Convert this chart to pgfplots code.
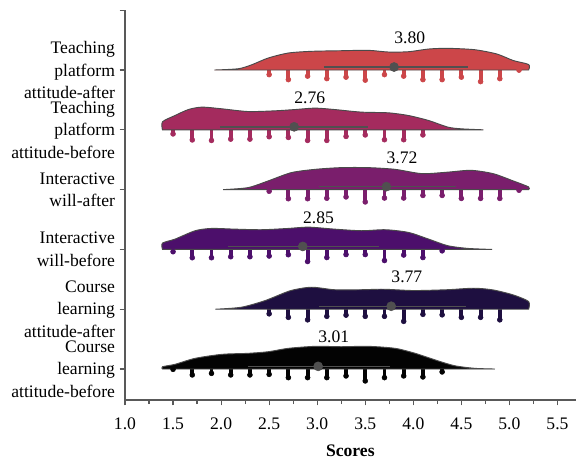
\documentclass[border=0pt]{standalone}
\usepackage{pgfplots}
\pgfplotsset{compat=1.18}
\usepackage{pgfplotstable}
\usepackage{fontspec}
\setmainfont{Liberation Serif}
\definecolor{cA}{HTML}{CC4649}
\definecolor{cB}{HTML}{A42B5E}
\definecolor{cC}{HTML}{7A1E6C}
\definecolor{cD}{HTML}{4C0F6B}
\definecolor{cE}{HTML}{1E0F40}
\definecolor{cF}{HTML}{030303}
\definecolor{axgray}{HTML}{595959}
\definecolor{meangray}{HTML}{505050}
\definecolor{edgegray}{HTML}{4A4A4A}

% density outlines: x (score), h (height in px)
\pgfplotstableread{
x h
1.93 0
2.18 1.3
2.32 5.3
2.49 12
2.70 17
2.94 18.7
3.25 19.3
3.53 19.7
3.74 18
3.95 18.3
4.16 21
4.36 21.7
4.64 20.3
4.87 16
5.04 9.5
5.20 5.5
5.20 0
}\denA
\pgfplotstableread{
x h
1.39 0
1.39 8.0
1.52 14.3
1.66 20.3
1.80 22.7
2.01 21
2.28 18.3
2.56 19
2.77 20.3
2.98 21.7
3.18 20.3
3.46 17.7
3.74 17
3.95 14.3
4.16 9.3
4.36 2.7
4.50 1
4.73 0
}\denB
\pgfplotstableread{
x h
2.02 0
2.28 2
2.49 8.7
2.73 17
2.98 20.3
3.25 22
3.53 22
3.81 20.3
4.09 16
4.36 17.5
4.60 19.3
4.83 16
5.04 8.7
5.20 2.7
5.20 0
}\denC
\pgfplotstableread{
x h
1.39 0
1.39 6.3
1.52 10.3
1.73 18.7
1.90 21
2.14 20.3
2.42 19.7
2.70 21
2.91 22.3
3.18 20.3
3.46 18.7
3.71 19.7
3.95 17
4.16 10.3
4.36 3.7
4.57 1
4.82 0
}\denD
\pgfplotstableread{
x h
1.94 0
2.21 2
2.46 8.7
2.72 18.5
2.94 22
3.18 19.5
3.46 19.5
3.69 20
4.00 18.7
4.35 19.5
4.63 21
4.83 19.3
5.04 14.3
5.20 7.7
5.20 0
}\denE
\pgfplotstableread{
x h
1.39 0
1.39 2.3
1.52 4.7
1.73 10.7
2.01 14.7
2.28 15.7
2.49 17.3
2.70 20.7
2.98 22.7
3.25 22.3
3.53 22.7
3.81 20.7
4.02 15.7
4.23 9
4.43 3.3
4.64 0.7
4.85 0
}\denF

% rug stems: x (score), l (length in px)
\pgfplotstableread{
x l
2.5 7
2.7 12
2.9 8.5
3.1 11
3.3 9.5
3.5 12.5
3.7 7
3.9 8.5
4.1 12
4.3 12
4.5 9.5
4.7 14
4.9 11
5.1 2.5
}\rugA
\pgfplotstableread{
x l
1.5 6.5
1.7 12.5
1.9 13
2.1 11.7
2.3 11.7
2.5 9.3
2.7 10
2.9 13
3.1 13
3.3 9
3.5 7.5
3.7 12.3
3.9 12.3
4.1 7.5
}\rugB
\pgfplotstableread{
x l
2.5 4
2.7 11.5
2.9 11.5
3.1 11
3.3 9.7
3.5 14.7
3.7 10.8
3.9 10.8
4.1 8.2
4.3 8.2
4.5 11.2
4.7 11.2
4.9 11.2
5.1 3
}\rugC
\pgfplotstableread{
x l
1.5 4.7
1.7 10.7
1.9 10.7
2.1 9.7
2.3 9.7
2.5 9
2.7 7.7
2.9 14.5
3.1 10.5
3.3 7.5
3.5 7.5
3.7 13.5
3.9 8
4.1 10.5
4.3 3.8
}\rugD
\pgfplotstableread{
x l
2.5 7
2.7 10.5
2.9 13
3.1 9.5
3.3 8.3
3.5 9.5
3.7 9.5
3.9 14.5
4.1 7.5
4.3 8
4.5 10.5
4.7 10.5
4.9 13
}\rugE
\pgfplotstableread{
x l
1.5 2.7
1.7 8.3
1.9 6.7
2.1 8.3
2.3 8.3
2.5 7.7
2.7 11
2.9 11
3.1 11
3.3 9.3
3.5 14.3
3.7 11
3.9 9.3
4.1 10.3
4.3 5.3
}\rugF

\pgfplotsset{
  rug/.style={#1, line width=2.9pt, line cap=round},
  rugend/.style={#1, only marks, mark=*, mark size=1.85pt, mark options={draw=#1, fill=#1}},
  dens/.style={fill=#1, draw=edgegray, line width=0.7pt, smooth, tension=0.45},
}

\newcommand{\row}[4]{% #1 den table, #2 rug table, #3 colour, #4 base
  \addplot[rug=#3, quiver={u=0, v={-(\thisrow{l}-2.4)/59.8}}] table[x=x, y expr={#4}] {#2};
  \addplot[rugend=#3] table[x=x, y expr={#4-(\thisrow{l}-2.4)/59.8}] {#2};
  \addplot[dens=#3] table[x=x, y expr={#4+\thisrow{h}/59.8}] {#1} -- cycle;
}

\begin{document}
\begin{tikzpicture}[font=\fontsize{13.2}{16.9}\selectfont]
\begin{axis}[
  x=72.075pt, y=44.85pt,
  xmin=1, xmax=5.69, ymin=-0.52, ymax=6,
  axis x line*=bottom, axis y line*=left,
  x axis line style={-}, y axis line style={-},
  axis line style={axgray, line width=1pt},
  every tick/.style={axgray, line width=0.9pt},
  tick align=outside,
  major tick length=4pt, minor tick length=3pt,
  xtick={1,1.5,2,2.5,3,3.5,4,4.5,5,5.5},
  minor xtick={1.25,1.75,2.25,2.75,3.25,3.75,4.25,4.75,5.25},
  xticklabel style={/pgf/number format/fixed, /pgf/number format/fixed zerofill, /pgf/number format/precision=1, yshift=-6pt},
  /pgf/number format/assume math mode=true,
  tick label style={font=\fontsize{13.2}{16.9}\selectfont},
  ytick={0,1,2,3,4,5,6},
  yticklabels={{Course\\learning\\attitude-before},{Course\\learning\\attitude-after},{Interactive\\will-before},{Interactive\\will-after},{Teaching\\platform\\attitude-before},{Teaching\\platform\\attitude-after},{}},
  yticklabel style={align=right},
  xlabel={\textbf{Scores}},
  xlabel style={font=\fontsize{13.2}{16.9}\selectfont, yshift=-4.5pt},
  clip=false,
]
\row{\denF}{\rugF}{cF}{0}
\row{\denE}{\rugE}{cE}{1}
\row{\denD}{\rugD}{cD}{2}
\row{\denC}{\rugC}{cC}{3}
\row{\denB}{\rugB}{cB}{4}
\row{\denA}{\rugA}{cA}{5}

% mean +/- sd lines
\addplot[meangray, line width=1.1pt] coordinates {(3.07,5.05) (4.57,5.05)};
\addplot[meangray, line width=1.1pt] coordinates {(1.99,4.05) (3.53,4.05)};
\addplot[meangray, line width=1.1pt] coordinates {(3.02,3.05) (4.44,3.05)};
\addplot[meangray, line width=1.1pt] coordinates {(2.07,2.05) (3.64,2.05)};
\addplot[meangray, line width=1.1pt] coordinates {(3.02,1.05) (4.55,1.05)};
\addplot[meangray, line width=1.1pt] coordinates {(2.28,0.045) (3.76,0.045)};
% mean points
\addplot[only marks, mark=*, mark size=3.4pt, mark options={fill=meangray, draw=meangray}]
  coordinates {(3.80,5.05) (2.76,4.05) (3.72,3.05) (2.85,2.05) (3.77,1.05) (3.01,0.045)};

\node[anchor=west, inner sep=0pt] at (axis cs:3.80,5.535) {3.80};
\node[anchor=west, inner sep=0pt] at (axis cs:2.76,4.535) {2.76};
\node[anchor=west, inner sep=0pt] at (axis cs:3.72,3.535) {3.72};
\node[anchor=west, inner sep=0pt] at (axis cs:2.85,2.535) {2.85};
\node[anchor=west, inner sep=0pt] at (axis cs:3.77,1.535) {3.77};
\node[anchor=west, inner sep=0pt] at (axis cs:3.01,0.535) {3.01};

\coordinate (bbsw) at (axis cs:-0.3007,-1.505);
\coordinate (bbne) at (axis cs:5.693,6.171);
\end{axis}
\pgfresetboundingbox
\path[use as bounding box] (bbsw) rectangle (bbne);
\end{tikzpicture}
\end{document}
